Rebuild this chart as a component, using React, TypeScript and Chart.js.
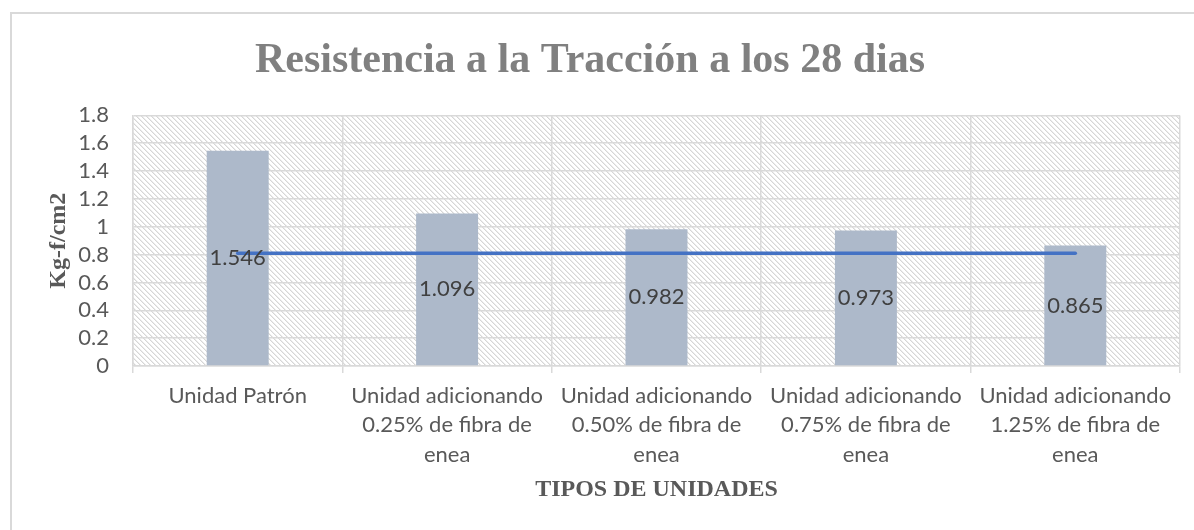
import React, { useEffect, useRef } from "react";
import { Chart, registerables } from "chart.js";

Chart.register(...registerables);

const chartTitle = "Resistencia a la Tracción a los 28 dias";
const xAxisTitle = "TIPOS DE UNIDADES";
const yAxisTitle = "Kg-f/cm2";

const categories: string[][] = [
  ["Unidad Patrón"],
  ["Unidad adicionando", "0.25% de fibra de", "enea"],
  ["Unidad adicionando", "0.50% de fibra de", "enea"],
  ["Unidad adicionando", "0.75% de fibra de", "enea"],
  ["Unidad adicionando", "1.25% de fibra de", "enea"],
];

const resistencia: number[] = [1.546, 1.096, 0.982, 0.973, 0.865];
const referencia: number[] = [0.81, 0.81, 0.81, 0.81, 0.81];

const yMin = 0;
const yMax = 1.8;
const yStep = 0.2;

const TICK_FONT = "Lato, 'Open Sans', sans-serif";
const SERIF = "'Liberation Serif', 'DejaVu Serif', serif";

function makePattern(ctx: CanvasRenderingContext2D): CanvasPattern | string {
  const n = 5;
  const c = document.createElement("canvas");
  c.width = n;
  c.height = n;
  const p = c.getContext("2d");
  if (!p) return "#f0f0f0";
  p.fillStyle = "#ffffff";
  p.fillRect(0, 0, n, n);
  for (let i = 0; i < n; i++) {
    p.fillStyle = "#d6d6d6";
    p.fillRect(i, i, 1, 1);
    p.fillStyle = "#ececec";
    p.fillRect((i + 1) % n, i, 1, 1);
  }
  return ctx.createPattern(c, "repeat") || "#f0f0f0";
}

const backgroundPlugin = {
  id: "bgHatch",
  beforeDraw(chart: any) {
    const { ctx, chartArea } = chart;
    ctx.save();
    ctx.fillStyle = "#ffffff";
    ctx.fillRect(0, 0, chart.width, chart.height);
    ctx.strokeStyle = "#d9d9d9";
    ctx.lineWidth = 2;
    ctx.strokeRect(11, 13, chart.width + 40, chart.height + 40);
    ctx.fillStyle = makePattern(ctx);
    ctx.fillRect(
      chartArea.left,
      chartArea.top,
      chartArea.right - chartArea.left,
      chartArea.bottom - chartArea.top
    );
    ctx.restore();
  },
};

const dataLabelPlugin = {
  id: "barLabels",
  afterDatasetsDraw(chart: any) {
    const { ctx } = chart;
    const meta = chart.getDatasetMeta(0);
    ctx.save();
    ctx.font = `22px ${TICK_FONT}`;
    ctx.fillStyle = "#404040";
    ctx.textAlign = "center";
    ctx.textBaseline = "middle";
    meta.data.forEach((bar: any, i: number) => {
      const v = resistencia[i];
      const y = (bar.y + bar.base) / 2;
      ctx.fillText(String(v), bar.x, y);
    });
    ctx.restore();
  },
};

export default function App() {
  const ref = useRef<HTMLCanvasElement | null>(null);

  useEffect(() => {
    const canvas = ref.current;
    if (!canvas) return;
    const chart = new Chart(canvas, {
      type: "bar",
      data: {
        labels: categories,
        datasets: [
          {
            type: "bar",
            label: "Resistencia",
            data: resistencia,
            backgroundColor: "#adb9ca",
            barPercentage: 0.296,
            categoryPercentage: 1,
            order: 1,
          },
          {
            type: "line",
            label: "Referencia",
            data: referencia,
            borderColor: "#4472c4",
            borderWidth: 3.5,
            borderCapStyle: "round",
            pointRadius: 0,
            fill: false,
            order: 0,
          } as any,
        ],
      },
      options: {
        responsive: false,
        animation: false,
        layout: { padding: { left: 0, right: 14, top: 0, bottom: 0 } },
        plugins: {
          legend: { display: false },
          tooltip: { enabled: false },
          title: {
            display: true,
            text: chartTitle,
            color: "#808080",
            font: { family: SERIF, size: 42, weight: "bold", lineHeight: 1.2 },
            padding: { top: 36, bottom: 29 },
          },
        },
        scales: {
          x: {
            grid: {
              offset: true,
              color: "#d9d9d9",
              lineWidth: 1.5,
              drawTicks: true,
              tickLength: 7,
            },
            border: { color: "#d9d9d9", width: 1.5 },
            ticks: {
              color: "#595959",
              font: { family: TICK_FONT, size: 22, lineHeight: 1.34 },
              padding: 8,
              maxRotation: 0,
              autoSkip: false,
            },
            title: {
              display: true,
              text: xAxisTitle,
              color: "#595959",
              font: { family: SERIF, size: 24, weight: "bold", lineHeight: 1.2 },
              padding: { top: 0, bottom: 26 },
            },
            afterFit(scale: any) {
              scale.height = 164;
            },
          },
          y: {
            min: yMin,
            max: yMax,
            ticks: {
              stepSize: yStep,
              autoSkip: false,
              color: "#595959",
              font: { family: TICK_FONT, size: 22, lineHeight: 1.2 },
              padding: 24,
              callback: (v: any) => String(Number(Number(v).toFixed(1))),
            },
            grid: { color: "#d9d9d9", lineWidth: 1.5, drawTicks: false },
            border: { color: "#d9d9d9", width: 1.5 },
            title: {
              display: true,
              text: yAxisTitle,
              color: "#595959",
              font: { family: SERIF, size: 24, weight: "bold", lineHeight: 1.2 },
              padding: { top: 44, bottom: 0 },
            },
            afterFit(scale: any) {
              scale.width = 133;
            },
          },
        },
      },
      plugins: [backgroundPlugin, dataLabelPlugin],
    });
    return () => chart.destroy();
  }, []);

  return (
    <div style={{ position: "fixed", left: 0, top: 0, width: 1194, height: 530, overflow: "hidden", background: "#fff" }}>
      <canvas ref={ref} width={1194} height={530} style={{ width: 1194, height: 530, display: "block" }} />
    </div>
  );
}
